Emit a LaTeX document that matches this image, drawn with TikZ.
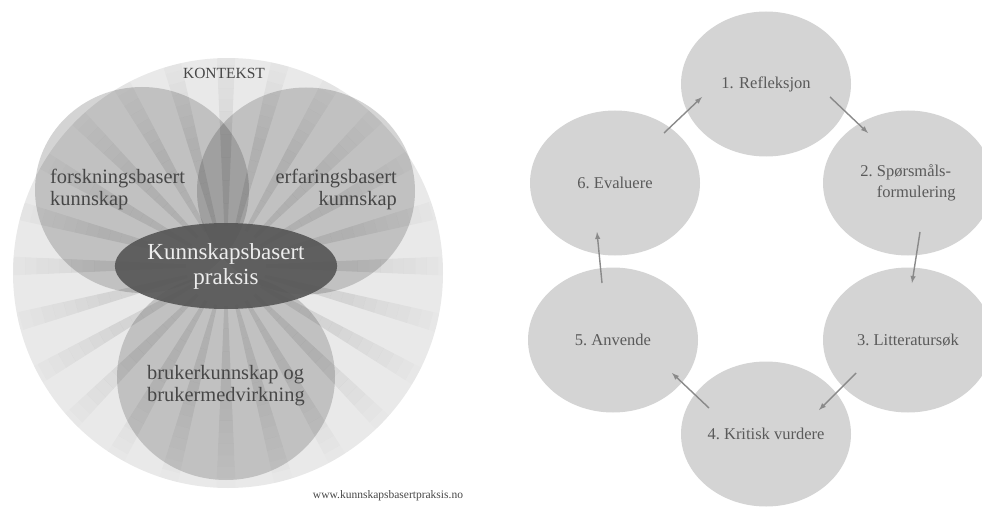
\documentclass[tikz,border=0pt]{standalone}
\usepackage{fontspec}
\setmainfont{Liberation Serif}
\usepackage{tikz}
\usetikzlibrary{shapes.geometric,calc,positioning,arrows}

\definecolor{bakgrunn}{HTML}{E9E9E9}
\definecolor{fasegraa}{HTML}{D4D4D4}
\definecolor{tekstgraa}{HTML}{474747}
\definecolor{pilgraa}{HTML}{8A8A8A}

\begin{document}
\begin{tikzpicture}[x=1pt,y=-1pt,
  lobe/.style={
   ellipse,
   fill=black,
   fill opacity=0.17,
   inner sep=0pt
  },
  etikett/.style={
   text=tekstgraa,
   inner sep=0pt,
   font=\fontsize{20.4}{22}\selectfont
  },
  fase/.style={
   ellipse,
   fill=fasegraa,
   minimum width=170,
   minimum height=145,
   inner sep=0pt,
   text=tekstgraa!90!white,
   align=left,
   font=\fontsize{16.5}{21}\selectfont
  },
  pil/.style={
   draw=pilgraa,
   line width=1.4pt,
   -latex
  }]
  \useasboundingbox (0,0) rectangle (982,508);

  % venstre: kunnskapsbasert praksis
  \node[circle,fill=bakgrunn,minimum size=430,inner sep=0pt] 
	  (kontekst) at (228,273) {};
  \coordinate (midt) at (226,266);
  \begin{scope}
	\clip (228,273) circle (215);
	\foreach \a in {0,15,...,345}{
	  \foreach \i in {0,...,15}{
		\pgfmathsetmacro{\ri}{40+\i*11.5}
		\pgfmathsetmacro{\ro}{\ri+11.5}
		\pgfmathsetmacro{\op}{\i<7 ? 0.085 : 0.085*(16-\i)/9}
		\fill[black,fill opacity=\op] ($(midt)+(\a-2.5:\ri)$) -- ($(midt)+(\a+2.5:\ri)$)
		  -- ($(midt)+(\a+2.5:\ro)$) -- ($(midt)+(\a-2.5:\ro)$) -- cycle;
	  }
	}
  \end{scope}
  \node[lobe,minimum width=214,minimum height=206] (forsk) at (142,190) {};
  \node[lobe,minimum width=218,minimum height=207] (erfar) at (306,191) {};
  \node[lobe,minimum width=218,minimum height=206] (bruker) at (226,377) {};
  \node[ellipse,fill=black!66,fill opacity=0.92,text opacity=1,text=white!93!black,
	  minimum width=218,minimum height=86,inner sep=0pt,align=center,
	  font=\fontsize{23}{25}\selectfont] 
	  (kbp) at (midt) {Kunnskapsbasert\\praksis};

  \node[etikett,font=\fontsize{15.5}{18}\selectfont,anchor=base] 
	  (kontekstTekst) at (224,79) {KONTEKST};
  \node[etikett,align=left,anchor=west] 
	  (forskTekst) at (50,189) {forskningsbasert\\kunnskap};
  \node[etikett,align=right,anchor=east] 
	  (erfarTekst) at (397,189) {erfaringsbasert\\kunnskap};
  \node[etikett,align=left,anchor=west] 
	  (brukerTekst) at (147,386) {brukerkunnskap og\\brukermedvirkning};
  \node[etikett,font=\fontsize{11.5}{13}\selectfont,anchor=base] 
	  (nettsted) at (388,498) {www.kunnskapsbasertpraksis.no};

  % hoyre: sirkelen med seks trinn
  \node[fase] (e1) at (766,84) {1. Refleksjon};
  \node[fase] (e2) at (908,183) {2.\ Spørsmåls-\\\phantom{2.\ }formulering};
  \node[fase] (e3) at (908,340) {3.\ Litteratursøk};
  \node[fase] (e4) at (766,434) {4.\ Kritisk vurdere};
  \node[fase] (e5) at (613,340) {5.\ Anvende};
  \node[fase] (e6) at (615,183) {6.\ Evaluere};

  \draw[pil] ($(e6.center)+(49,-50)$) -- ($(e1.center)+(-64,13)$);
  \draw[pil] ($(e1.center)+(64,13)$) -- ($(e2.center)+(-40,-50)$);
  \draw[pil] ($(e2.center)+(12,49)$) -- ($(e3.center)+(4,-57)$);
  \draw[pil] ($(e3.center)+(-52,33)$) -- ($(e4.center)+(53,-24)$);
  \draw[pil] ($(e4.center)+(-57,-26)$) -- ($(e5.center)+(59,33)$);
  \draw[pil] ($(e5.center)+(-11,-57)$) -- ($(e6.center)+(-18,49)$);

\end{tikzpicture}
\end{document}
